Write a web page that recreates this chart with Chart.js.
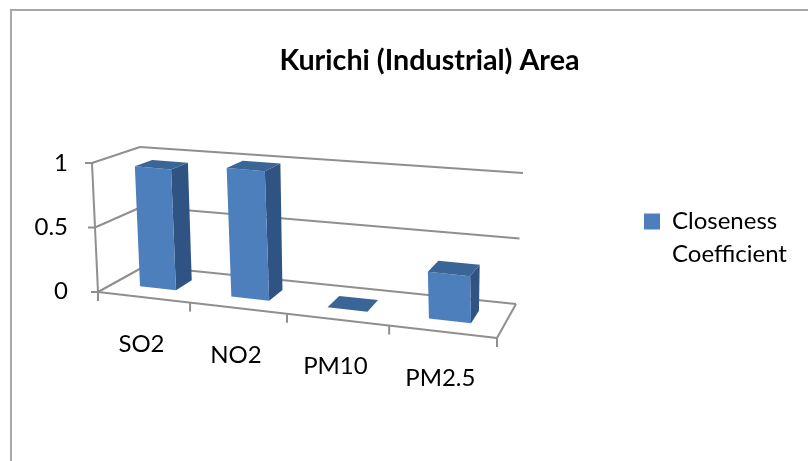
<!DOCTYPE html>
<html>
<head>
<meta charset="utf-8">
<style>
  body { margin: 0; background: #fff; }
  #frame { position: absolute; left: 10px; top: 9px; width: 798px; height: 452px; border-left: 2px solid #a8a8a8; border-top: 2px solid #a8a8a8; box-sizing: border-box; }
  canvas { position: absolute; left: 0; top: 0; }
</style>
<script src="https://cdn.jsdelivr.net/npm/chart.js@4/dist/chart.umd.min.js"></script>
</head>
<body>
<div id="frame"></div>
<canvas id="kurichi" width="808" height="461"></canvas>
<script>
var categories = ['SO2', 'NO2', 'PM10', 'PM2.5'];
var closeness = [0.95, 1, 0, 0.35];
var seriesName = ['Closeness', 'Coefficient'];

var frontColor = '#4d7fbc';
var sideColor = '#2f5483';
var topColor = '#3a6597';
var gridColor = '#8f8f8f';

// screen corners of the 3d box: [x, y]
var frontLow = [[98, 292], [497, 338]];
var frontHigh = [[92, 163], [490, 201]];
var backLow = [[145, 266], [516, 304]];
var backHigh = [[140, 147], [523, 173]];
var skew = 0.9; // perspective along the x axis
var depthFrom = 0.33;
var depthTo = 0.7;

function mix(a, b, t) {
  return [a[0] + (b[0] - a[0]) * t, a[1] + (b[1] - a[1]) * t];
}

// chart pixel + depth -> tilted screen pixel
function project(chart, px, py, depth) {
  var area = chart.chartArea;
  var u = (px - area.left) / area.width;
  var v = (area.bottom - py) / area.height;
  var w = u * skew / (1 + (skew - 1) * u);
  var low = mix(mix(frontLow[0], frontLow[1], w), mix(backLow[0], backLow[1], w), depth);
  var high = mix(mix(frontHigh[0], frontHigh[1], w), mix(backHigh[0], backHigh[1], w), depth);
  return mix(low, high, v);
}

function line(ctx, a, b) {
  ctx.beginPath();
  ctx.moveTo(a[0], a[1]);
  ctx.lineTo(b[0], b[1]);
  ctx.stroke();
}

function face(ctx, pts, color) {
  ctx.fillStyle = color;
  ctx.beginPath();
  ctx.moveTo(pts[0][0], pts[0][1]);
  for (var i = 1; i < pts.length; i++) ctx.lineTo(pts[i][0], pts[i][1]);
  ctx.closePath();
  ctx.fill();
}

var box3d = {
  id: 'box3d',
  afterLayout: function(chart) {
    // the layout centres these on the whole canvas, the picture does not
    chart.legend.left = 634;
    chart.legend.top += 97;
    chart.legend.bottom += 97;
    chart.titleBlock.left += 51;
  },
  beforeDatasetsDraw: function(chart) {
    var ctx = chart.ctx;
    var area = chart.chartArea;
    var xScale = chart.scales.x;
    var yScale = chart.scales.y;

    ctx.save();
    ctx.strokeStyle = gridColor;
    ctx.lineWidth = 2;

    // walls
    yScale.ticks.forEach(function(tick) {
      var y = yScale.getPixelForValue(tick.value);
      var front = project(chart, area.left, y, 0);
      var back = project(chart, area.left, y, 1);
      line(ctx, [front[0] - 7, front[1]], front);
      line(ctx, front, back);
      line(ctx, back, project(chart, area.right, y, 1));
    });
    line(ctx, project(chart, area.left, area.top, 0), project(chart, area.left, area.bottom, 0));

    // floor
    line(ctx, project(chart, area.left, area.bottom, 0), project(chart, area.right, area.bottom, 0));
    line(ctx, project(chart, area.right, area.bottom, 0), project(chart, area.right, area.bottom, 1));

    // ticks on the category axis
    var step = area.width / categories.length;
    for (var i = 0; i <= categories.length; i++) {
      var p = project(chart, area.left + step * i, area.bottom, 0);
      line(ctx, p, [p[0], p[1] + 9]);
    }

    // bars
    chart.getDatasetMeta(0).data.forEach(function(bar) {
      var b = bar.getProps(['x', 'y', 'base', 'width']);
      var l = b.x - b.width / 2;
      var r = b.x + b.width / 2;
      face(ctx, [project(chart, r, b.y, depthFrom), project(chart, r, b.y, depthTo), project(chart, r, b.base, depthTo), project(chart, r, b.base, depthFrom)], sideColor);
      face(ctx, [project(chart, l, b.y, depthFrom), project(chart, r, b.y, depthFrom), project(chart, r, b.base, depthFrom), project(chart, l, b.base, depthFrom)], frontColor);
      face(ctx, [project(chart, l, b.y, depthFrom), project(chart, r, b.y, depthFrom), project(chart, r, b.y, depthTo), project(chart, l, b.y, depthTo)], topColor);
    });

    // category labels follow the slanted floor edge
    ctx.fillStyle = '#000';
    ctx.font = '24px Lato';
    ctx.textAlign = 'center';
    ctx.textBaseline = 'middle';
    categories.forEach(function(name, i) {
      var p = project(chart, xScale.getPixelForValue(i), area.bottom, 0);
      ctx.fillText(name, p[0] - 2, p[1] + 47);
    });
    ctx.restore();
    return false;
  }
};

new Chart(document.getElementById('kurichi').getContext('2d'), {
  type: 'bar',
  plugins: [box3d],
  data: {
    labels: categories,
    datasets: [{
      label: seriesName,
      data: closeness,
      backgroundColor: frontColor,
      barPercentage: 0.4,
      categoryPercentage: 1
    }]
  },
  options: {
    responsive: false,
    animation: false,
    layout: { padding: { bottom: 170 } },
    scales: {
      x: { display: false },
      y: {
        min: 0,
        max: 1,
        afterFit: function(scale) { scale.width = 98; },
        grid: { display: false },
        border: { display: false },
        ticks: {
          stepSize: 0.5,
          color: '#000',
          padding: 22,
          font: { family: 'Lato', size: 24 },
          callback: function(value) { return String(value); }
        }
      }
    },
    plugins: {
      title: {
        display: true,
        text: 'Kurichi (Industrial) Area',
        color: '#000',
        font: { family: 'Lato', size: 28.7, weight: 'bold', lineHeight: 1.2 },
        padding: { top: 44, bottom: 84.5 }
      },
      legend: {
        position: 'right',
        labels: { color: '#000', boxWidth: 16, boxHeight: 16, font: { family: 'Lato', size: 24, lineHeight: 1.375 } }
      },
      tooltip: { enabled: false }
    }
  }
});
</script>
</body>
</html>
